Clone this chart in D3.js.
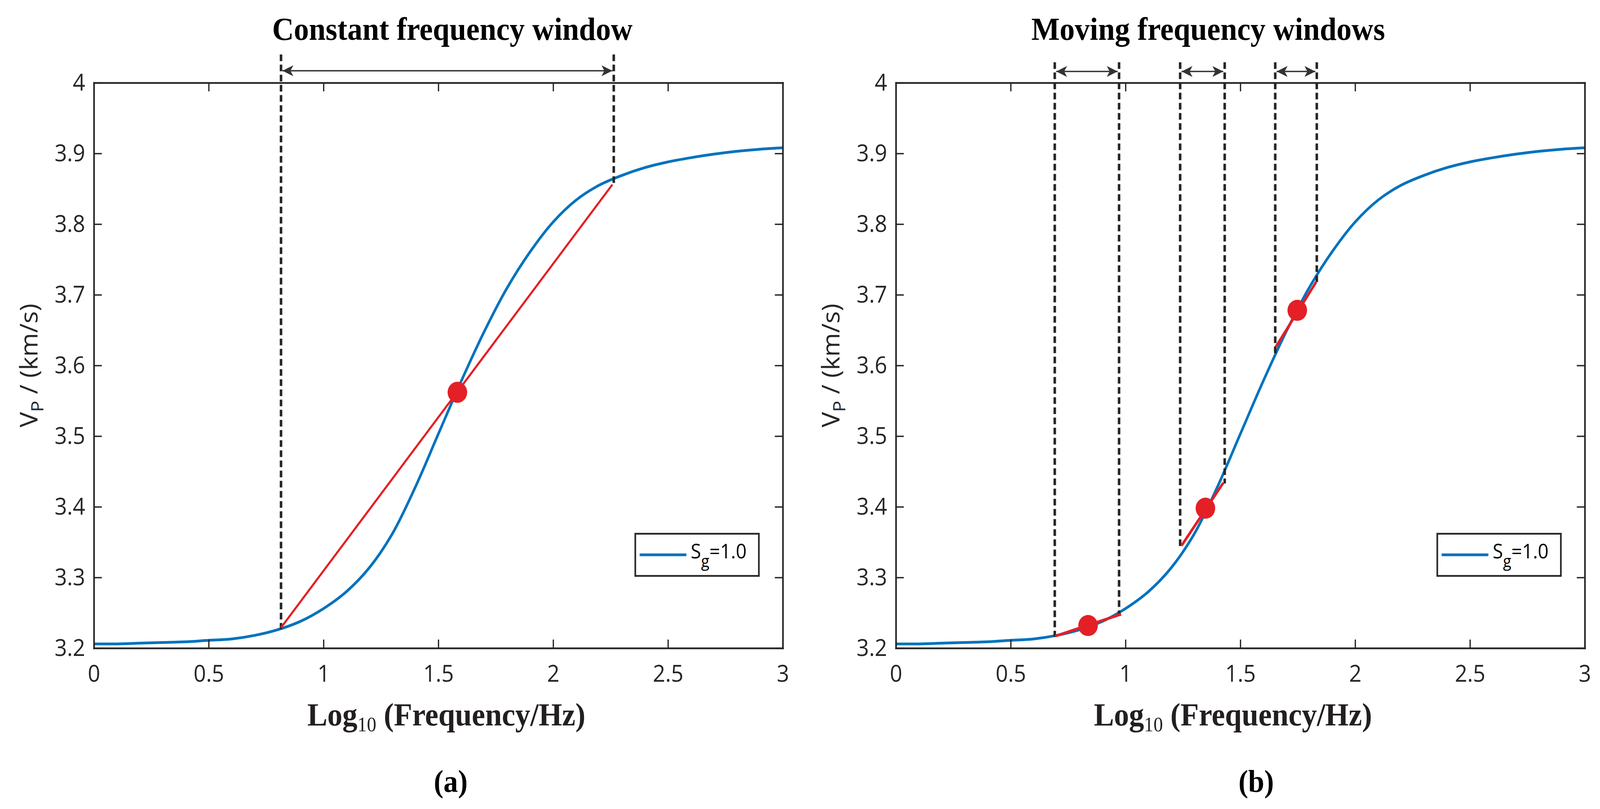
<!DOCTYPE html>
<html>
<head>
<meta charset="utf-8">
<script src="https://cdn.jsdelivr.net/npm/d3@7"></script>
<style>
  html, body { margin: 0; padding: 0; background: #fff; overflow: hidden; }
  svg { display: block; width: 100vw; height: 100vh; }
</style>
</head>
<body>
<div id="chart"></div>
<script>
// Vp dispersion curve (Sg = 1.0) at log10(f) steps of 0.1
const logFreq = [0, 0.1, 0.2, 0.3, 0.4, 0.5, 0.6, 0.7, 0.8, 0.9, 1.0,
  1.1, 1.2, 1.3, 1.4, 1.5, 1.6, 1.7, 1.8, 1.9, 2.0,
  2.1, 2.2, 2.3, 2.4, 2.5, 2.6, 2.7, 2.8, 2.9, 3.0];
const vpSg10 = [3.206, 3.206, 3.207, 3.208, 3.209, 3.211, 3.213, 3.218, 3.226, 3.238, 3.256,
  3.280, 3.314, 3.362, 3.428, 3.503, 3.578, 3.648, 3.710, 3.761, 3.803,
  3.834, 3.855, 3.869, 3.880, 3.888, 3.894, 3.899, 3.903, 3.906, 3.908];

const xTicks = [0, 0.5, 1, 1.5, 2, 2.5, 3];
const xTickLabels = ["0", "0.5", "1", "1.5", "2", "2.5", "3"];
const yTicks = [3.2, 3.3, 3.4, 3.5, 3.6, 3.7, 3.8, 3.9, 4.0];
const yTickLabels = ["3.2", "3.3", "3.4", "3.5", "3.6", "3.7", "3.8", "3.9", "4"];

// (a) one constant window: chord across it and its midpoint
const constWinStart = [0.815];
const constWinEnd = [2.264];
const constDashLowStart = [3.227];
const constDashLowEnd = [3.855];
const constSegX0 = [0.815];
const constSegX1 = [2.258];
const constSegY0 = [3.229];
const constSegY1 = [3.856];
const constDotX = [1.583];
const constDotY = [3.562];

// (b) three moving windows, local chords and their centre points
const movWinStart = [0.692, 1.238, 1.652];
const movWinEnd = [0.972, 1.432, 1.833];
const movDashLowStart = [3.216, 3.340, 3.617];
const movDashLowEnd = [3.246, 3.433, 3.715];
const movSegX0 = [0.694, 1.244, 1.654];
const movSegX1 = [0.981, 1.426, 1.830];
const movSegY0 = [3.217, 3.345, 3.626];
const movSegY1 = [3.248, 3.434, 3.718];
const movDotX = [0.837, 1.348, 1.748];
const movDotY = [3.232, 3.398, 3.678];

const W = 4415, H = 2072;
const plotW = 1901, plotTop = 212, plotBottom = 1660;
const blue = "#0072bd", red = "#e41f26", ink = "#262626";

const panels = [
  {
    left: 259, title: "Constant frequency window", titleX: 1.561, xlabelX: 1.535,
    tag: "(a)", tagX: 1.554, dashTop: 4.040, arrowY: 4.017, redWidth: 5.5,
    winStart: constWinStart, winEnd: constWinEnd,
    lowStart: constDashLowStart, lowEnd: constDashLowEnd,
    segX0: constSegX0, segX1: constSegX1, segY0: constSegY0, segY1: constSegY1,
    dotX: constDotX, dotY: constDotY
  },
  {
    left: 2472, title: "Moving frequency windows", titleX: 1.360, xlabelX: 1.468,
    tag: "(b)", tagX: 1.569, dashTop: 4.029, arrowY: 4.016, redWidth: 7,
    winStart: movWinStart, winEnd: movWinEnd,
    lowStart: movDashLowStart, lowEnd: movDashLowEnd,
    segX0: movSegX0, segX1: movSegX1, segY0: movSegY0, segY1: movSegY1,
    dotX: movDotX, dotY: movDotY
  }
];

// scale the whole drawing to whatever the window really is
const svg = d3.select("#chart").append("svg")
  .attr("viewBox", `0 0 ${W} ${H}`)
  .attr("preserveAspectRatio", "none")
  .style("background", "#fff");

// double headed arrow tips
svg.append("defs").append("marker")
  .attr("id", "tip")
  .attr("viewBox", "0 0 30 28")
  .attr("refX", 30)
  .attr("refY", 14)
  .attr("markerWidth", 30)
  .attr("markerHeight", 28)
  .attr("markerUnits", "userSpaceOnUse")
  .attr("orient", "auto-start-reverse")
  .append("path")
  .attr("d", "M0,0 L30,14 L0,28 L8,14 Z")
  .attr("fill", "#333");

function drawPanel(p) {
  const x = d3.scaleLinear().domain([0, 3]).range([p.left, p.left + plotW]);
  const y = d3.scaleLinear().domain([3.2, 4]).range([plotBottom, plotTop]);
  const g = svg.append("g");

  // blue dispersion curve
  const line = d3.line()
    .x(d => x(d[0]))
    .y(d => y(d[1]))
    .curve(d3.curveCatmullRom.alpha(0.5));
  g.append("path")
    .datum(d3.zip(logFreq, vpSg10))
    .attr("d", line)
    .attr("fill", "none")
    .attr("stroke", blue)
    .attr("stroke-width", 7);

  // dashed window edges
  const edges = [];
  p.winStart.forEach((v, i) => {
    edges.push({ x: v, low: p.lowStart[i] });
    edges.push({ x: p.winEnd[i], low: p.lowEnd[i] });
  });
  g.selectAll(".edge")
    .data(edges)
    .join("line")
    .attr("class", "edge")
    .attr("x1", d => x(d.x))
    .attr("x2", d => x(d.x))
    .attr("y1", y(p.dashTop))
    .attr("y2", d => y(d.low))
    .attr("stroke", ink)
    .attr("stroke-width", 7)
    .attr("stroke-dasharray", "17,9");

  // arrows spanning each window
  g.selectAll(".span")
    .data(p.winStart)
    .join("line")
    .attr("class", "span")
    .attr("x1", d => x(d) + 4)
    .attr("x2", (d, i) => x(p.winEnd[i]) - 4)
    .attr("y1", y(p.arrowY))
    .attr("y2", y(p.arrowY))
    .attr("stroke", "#333")
    .attr("stroke-width", 3.5)
    .attr("marker-start", "url(#tip)")
    .attr("marker-end", "url(#tip)");

  // red chords
  g.selectAll(".seg")
    .data(p.segX0)
    .join("line")
    .attr("class", "seg")
    .attr("x1", d => x(d))
    .attr("y1", (d, i) => y(p.segY0[i]))
    .attr("x2", (d, i) => x(p.segX1[i]))
    .attr("y2", (d, i) => y(p.segY1[i]))
    .attr("stroke", red)
    .attr("stroke-width", p.redWidth);

  g.selectAll(".dot")
    .data(p.dotX)
    .join("circle")
    .attr("class", "dot")
    .attr("cx", d => x(d))
    .attr("cy", (d, i) => y(p.dotY[i]))
    .attr("r", 27)
    .attr("fill", red);

  // box axes, ticks pointing inward
  const axes = [
    { ax: d3.axisBottom(x).tickValues(xTicks).tickFormat((d, i) => xTickLabels[i]).tickPadding(43), t: `translate(0,${plotBottom})` },
    { ax: d3.axisTop(x).tickValues(xTicks).tickFormat(""), t: `translate(0,${plotTop})` },
    { ax: d3.axisLeft(y).tickValues(yTicks).tickFormat((d, i) => yTickLabels[i]).tickPadding(24), t: `translate(${p.left},0)` },
    { ax: d3.axisRight(y).tickValues(yTicks).tickFormat(""), t: `translate(${p.left + plotW},0)` }
  ];
  axes.forEach(a => {
    const ag = g.append("g")
      .attr("transform", a.t)
      .call(a.ax.tickSizeInner(-22).tickSizeOuter(0));
    ag.select(".domain")
      .attr("stroke", ink)
      .attr("stroke-width", 4.5)
      .attr("stroke-linecap", "square");
    ag.selectAll(".tick line")
      .attr("stroke", ink)
      .attr("stroke-width", 3.5);
    ag.selectAll(".tick text")
      .attr("fill", ink)
      .style("font-family", "'Open Sans', sans-serif")
      .style("font-size", "60px");
  });

  // title
  g.append("text")
    .attr("x", x(p.titleX))
    .attr("y", 102)
    .attr("text-anchor", "middle")
    .style("font-family", "'Liberation Serif', 'Times New Roman', serif")
    .style("font-weight", "bold")
    .style("font-size", "83px")
    .attr("fill", "#000")
    .text(p.title);

  // x label with subscript
  const xl = g.append("text")
    .attr("x", x(p.xlabelX))
    .attr("y", 1858)
    .attr("text-anchor", "middle")
    .style("font-family", "'Liberation Serif', 'Times New Roman', serif")
    .style("font-weight", "bold")
    .style("font-size", "83px")
    .attr("fill", "#231f20");
  xl.append("tspan").text("Log");
  xl.append("tspan").text("10")
    .attr("dy", 15)
    .style("font-size", "52px")
    .style("font-weight", "normal");
  xl.append("tspan").text(" (Frequency/Hz)").attr("dy", -15);

  // y label
  const yl = g.append("text")
    .attr("transform", `translate(${p.left - 156},${(plotTop + plotBottom) / 2}) rotate(-90)`)
    .attr("text-anchor", "middle")
    .style("font-family", "'Open Sans', sans-serif")
    .style("font-size", "66px")
    .attr("fill", ink);
  yl.append("tspan").text("V");
  yl.append("tspan").text("P").attr("dy", 17).style("font-size", "48px");
  yl.append("tspan").text(" / (km/s)").attr("dy", -17);

  // panel tag
  g.append("text")
    .attr("x", x(p.tagX))
    .attr("y", 2028)
    .attr("text-anchor", "middle")
    .style("font-family", "'Liberation Serif', 'Times New Roman', serif")
    .style("font-weight", "bold")
    .style("font-size", "80px")
    .attr("fill", "#000")
    .text(p.tag);

  // legend
  const right = p.left + plotW;
  const lg = g.append("g");
  lg.append("rect")
    .attr("x", right - 407)
    .attr("y", 1367)
    .attr("width", 341)
    .attr("height", 108)
    .attr("fill", "#fff")
    .attr("stroke", ink)
    .attr("stroke-width", 4.5);
  lg.append("line")
    .attr("x1", right - 395)
    .attr("x2", right - 266)
    .attr("y1", 1421)
    .attr("y2", 1421)
    .attr("stroke", blue)
    .attr("stroke-width", 7);
  const lt = lg.append("text")
    .attr("x", right - 254)
    .attr("y", 1430)
    .style("font-family", "'Open Sans', sans-serif")
    .style("font-size", "52px")
    .attr("fill", "#000");
  lt.append("tspan").text("S");
  lt.append("tspan").text("g").attr("dy", 22).style("font-size", "42px");
  lt.append("tspan").text("=1.0").attr("dy", -22);
}

panels.forEach(drawPanel);
</script>
</body>
</html>
